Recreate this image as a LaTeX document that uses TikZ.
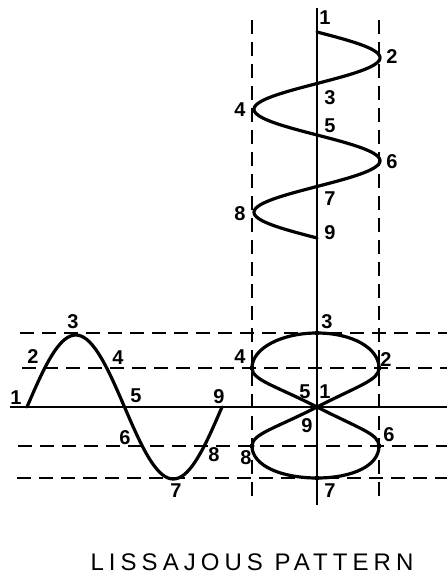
\documentclass[tikz,border=0pt]{standalone}
\usepackage{fontspec}
\setmainfont{Liberation Sans}
\newfontfamily\titlefont[LetterSpace=21]{Liberation Sans}
\usetikzlibrary{calc}
\tikzset{
  every picture/.style={x=1pt, y=1pt, line width=1.6pt},
  curve/.style={line width=3.2pt, line cap=round, line join=round},
  guide/.style={line width=1.8pt, dash pattern=on 14pt off 8pt},
  lbl/.style={font=\bfseries\fontsize{20}{20}\selectfont, inner sep=0pt},
  title/.style={font=\titlefont\fontsize{24}{24}\selectfont, inner sep=0pt},
  tick/.style={circle, fill=black, inner sep=0pt, minimum size=5pt},
}

\begin{document}
\begin{tikzpicture}
  \useasboundingbox (0,0) rectangle (447,587);
  % axes and guide lines
  \draw (10,180) -- (447,180);
  \draw (317,579) -- (317,82);
  \foreach \y/\x in {254/20, 219/22, 141/18, 109/17} \draw[guide] (\x,\y) -- (447,\y);
  \foreach \x in {252, 379} \draw[guide] (\x,567) -- (\x,90);
  % left: horizontal sine
  \draw[curve] plot[domain=0:360, samples=73, variable=\t] ({27+\t/360*195}, {180+72*sin(\t)});
  \foreach \n/\x/\y in {1/16/189, 2/33/230, 3/73/265, 4/118/229, 5/136/191, 6/125/149, 7/176/96, 8/214/132, 9/219/190}
    \node[lbl] (s\n) at (\x,\y) {\n};
  % top: vertical sine, twice as fast
  \draw[curve] plot[domain=0:720, samples=145, variable=\t] ({317+63*sin(\t)}, {555-\t/720*206});
  \foreach \n/\x/\y in {1/325/569, 2/392/530, 3/330/489, 4/240/477, 5/330/461, 6/392/425, 7/330/388, 8/240/373, 9/330/354}
    \node[lbl] (v\n) at (\x,\y) {\n};
  % right: the figure eight
  \coordinate (c) at (317,180);
  \coordinate (p2) at (379,219); \coordinate (p3) at (317,254); \coordinate (p4) at (252,219);
  \coordinate (p6) at (379,141); \coordinate (p7) at (317,109); \coordinate (p8) at (252,141);
  \draw[curve] (c) .. controls +(27:48) and +(-90:12) .. (p2)
    .. controls +(90:20) and +(0:35) .. (p3) .. controls +(180:35) and +(90:20) .. (p4)
    .. controls +(-90:12) and +(153:48) .. (c) .. controls +(-27:48) and +(90:12) .. (p6)
    .. controls +(-90:20) and +(0:35) .. (p7) .. controls +(180:35) and +(-90:20) .. (p8)
    .. controls +(90:12) and +(207:48) .. (c);
  \foreach \p in {p2, p3, p4, p6, p7, p8} \node[tick] at (\p) {};
  \foreach \n/\x/\y in {1/325/195, 2/386/227, 3/327/265, 4/240/230, 5/305/195, 6/389/152, 7/330/96, 8/246/129, 9/307/161}
    \node[lbl] (l\n) at (\x,\y) {\n};
  \node[title] (name) at (252,25) {LISSAJOUS PATTERN};
\end{tikzpicture}
\end{document}
